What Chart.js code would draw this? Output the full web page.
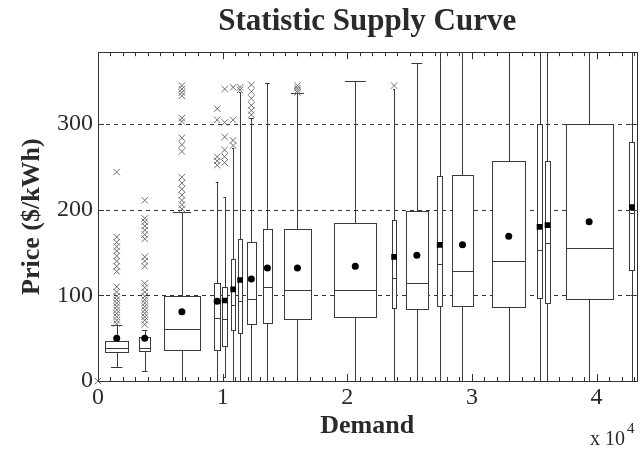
<!DOCTYPE html>
<html>
<head>
<meta charset="utf-8">
<script src="https://cdn.jsdelivr.net/npm/chart.js@4/dist/chart.umd.min.js"></script>
<style>
  html, body { margin: 0; padding: 0; background: #fff; }
  #wrap { width: 642px; height: 449px; }
</style>
</head>
<body>
<div id="wrap"><canvas id="chart" width="642" height="449"></canvas></div>
<script>
// box positions on the demand axis, and how wide each box is (demand units)
const demand  = [1500, 3750, 6730, 9560, 10160, 10840, 11400, 12300, 13590, 16000, 20640, 23750, 25580, 27410, 29240, 32950, 35420, 36060, 39400, 42830];
const boxSpan = [1830, 880, 2950, 450, 400, 360, 360, 760, 720, 2150, 3350, 320, 1750, 360, 1750, 2630, 400, 400, 3750, 400];

// price statistics ($/kWh)
const whiskerLow  = [16, 12, 0, 0, 5, 0, 0, 0, 0, 0, 0, 0, 0, 0, 0, 0, 0, 0, 0, 0];
const q1          = [34, 35, 36, 36, 41, 60, 56, 66, 68, 72, 75, 85, 84, 88, 88, 87, 97, 91, 96, 130];
const median      = [38.5, 38, 61, 74, 72, 89, 94, 96, 110, 106, 106, 120, 115, 137, 128, 140, 153, 161, 155, 196];
const q3          = [46.7, 51, 99, 115, 110, 142, 166, 162, 178, 177, 184, 188, 198, 239, 241, 257, 300, 257, 300, 279];
const whiskerHigh = [65, 60, 197, 232, 215, 272, 337, 307, 348, 336, 350, 341, 371, 420, 420, 420, 420, 420, 420, 420];
const meanPrice   = [50, 50, 81, 93, 94, 107, 118, 119, 132, 132, 134, 145, 147, 159, 159, 169, 180, 182, 186, 203];

const outliers = [
  [244, 168, 162, 157, 152, 146, 140, 134, 128, 110, 104, 99, 95, 91, 87, 83, 79, 75, 71, 67],
  [211, 190, 186, 181, 176, 171, 166, 145, 140, 134, 114, 109, 104, 99, 95, 91, 87, 83, 79, 75, 71, 66],
  [345, 341, 337, 333, 307, 303, 284, 276, 268, 238, 231, 224, 217, 211, 206, 201],
  [318, 305, 262, 257, 252],
  [341, 302, 285, 270, 262, 255],
  [343, 305, 281, 275],
  [343, 340],
  [346, 338, 330, 322, 316, 311],
  [],
  [345, 342, 339, 337],
  [], [345], [], [], [], [], [], [], [], []
];
// one stray point sitting at the origin
const strayDemand = [0];
const strayPrice  = [0];

const xTickValues = [0, 10000, 20000, 30000, 40000];
const yTickValues = [0, 100, 200, 300];

const serif = '"Liberation Serif", "Times New Roman", serif';
const ink = '#2a2a2a';

// build scatter points from the arrays
const outlierPoints = [];
outliers.forEach((list, i) => {
  list.forEach(v => outlierPoints.push({ x: demand[i], y: v }));
});
strayDemand.forEach((d, i) => outlierPoints.push({ x: d, y: strayPrice[i] }));

const meanPoints = demand.map((d, i) => ({ x: d, y: meanPrice[i] }));

// boxes, whiskers and caps go under the scatter marks
const boxPlugin = {
  id: 'boxes',
  beforeDatasetsDraw(chart) {
    const { ctx, chartArea, scales: { x, y } } = chart;
    ctx.save();

    // dashed grid at the labelled prices
    ctx.strokeStyle = '#333';
    ctx.lineWidth = 1;
    ctx.setLineDash([4, 4]);
    yTickValues.slice(1).forEach(v => {
      const py = Math.round(y.getPixelForValue(v)) + 0.5;
      ctx.beginPath();
      ctx.moveTo(chartArea.left, py);
      ctx.lineTo(chartArea.right, py);
      ctx.stroke();
    });
    ctx.setLineDash([]);

    ctx.beginPath();
    ctx.rect(chartArea.left, chartArea.top, chartArea.right - chartArea.left, chartArea.bottom - chartArea.top);
    ctx.clip();

    ctx.strokeStyle = '#3a3a3a';
    ctx.lineWidth = 1;
    demand.forEach((d, i) => {
      const cx = Math.round(x.getPixelForValue(d)) + 0.5;
      const x0 = Math.round(x.getPixelForValue(d - boxSpan[i] / 2)) + 0.5;
      const x1 = Math.round(x.getPixelForValue(d + boxSpan[i] / 2)) + 0.5;
      const c0 = x.getPixelForValue(d - boxSpan[i] / 4);
      const c1 = x.getPixelForValue(d + boxSpan[i] / 4);
      const yq1 = Math.round(y.getPixelForValue(q1[i])) + 0.5;
      const yq3 = Math.round(y.getPixelForValue(q3[i])) + 0.5;
      const ymed = Math.round(y.getPixelForValue(median[i])) + 0.5;
      const ylo = Math.round(y.getPixelForValue(whiskerLow[i])) + 0.5;
      const yhi = Math.round(y.getPixelForValue(whiskerHigh[i])) + 0.5;

      ctx.beginPath();
      // whiskers
      ctx.moveTo(cx, yq3); ctx.lineTo(cx, yhi);
      ctx.moveTo(cx, yq1); ctx.lineTo(cx, ylo);
      // caps
      ctx.moveTo(c0, yhi); ctx.lineTo(c1, yhi);
      ctx.moveTo(c0, ylo); ctx.lineTo(c1, ylo);
      ctx.stroke();

      ctx.fillStyle = '#fff';
      ctx.fillRect(x0, yq3, x1 - x0, yq1 - yq3);
      ctx.strokeRect(x0, yq3, x1 - x0, yq1 - yq3);
      ctx.beginPath();
      ctx.moveTo(x0, ymed); ctx.lineTo(x1, ymed);
      ctx.stroke();
    });
    ctx.restore();
  },
  afterDraw(chart) {
    const { ctx, chartArea, scales: { x, y } } = chart;
    const { left, right, top, bottom } = chartArea;
    ctx.save();
    ctx.strokeStyle = '#333';
    ctx.lineWidth = 1;
    ctx.strokeRect(Math.round(left) + 0.5, Math.round(top) + 0.5, Math.round(right - left), Math.round(bottom - top));

    // inward ticks, every 1000 on demand
    ctx.beginPath();
    for (let v = 0; v <= x.max; v += 1000) {
      const px = Math.round(x.getPixelForValue(v)) + 0.5;
      const len = v % 10000 === 0 ? 7 : 4;
      ctx.moveTo(px, bottom); ctx.lineTo(px, bottom - len);
      ctx.moveTo(px, top); ctx.lineTo(px, top + len);
    }
    yTickValues.forEach(v => {
      const py = Math.round(y.getPixelForValue(v)) + 0.5;
      ctx.moveTo(left, py); ctx.lineTo(left + 6, py);
      ctx.moveTo(right, py); ctx.lineTo(right - 6, py);
    });
    ctx.stroke();

    // exponent note under the axis
    ctx.fillStyle = ink;
    ctx.textBaseline = 'alphabetic';
    ctx.font = '20px ' + serif;
    ctx.fillText('x 10', 590, 445);
    ctx.font = '15px ' + serif;
    ctx.fillText('4', 627, 433);
    ctx.restore();
  }
};

new Chart(document.getElementById('chart'), {
  type: 'scatter',
  data: {
    datasets: [
      {
        label: 'Outliers',
        data: outlierPoints,
        pointStyle: 'crossRot',
        pointRadius: 4.5,
        pointBorderColor: '#6e6e6e',
        pointBorderWidth: 1,
        clip: false
      },
      {
        label: 'Mean',
        data: meanPoints,
        pointStyle: meanPoints.map((p, i) => boxSpan[i] <= 400 ? 'rect' : 'circle'),
        pointRadius: meanPoints.map((p, i) => boxSpan[i] <= 400 ? 4 : 3.5),
        pointBackgroundColor: '#000',
        pointBorderColor: '#000',
        pointBorderWidth: 0
      }
    ]
  },
  options: {
    responsive: false,
    animation: false,
    layout: { padding: { left: 0, right: 2, top: 0, bottom: 0 } },
    plugins: {
      legend: { display: false },
      tooltip: { enabled: false },
      title: {
        display: true,
        fullSize: false,
        text: 'Statistic Supply Curve',
        color: ink,
        font: { family: serif, size: 31, weight: 'bold' },
        padding: { top: 3, bottom: 12 }
      }
    },
    scales: {
      x: {
        type: 'linear',
        min: 0,
        max: 43200,
        grid: { display: false, drawTicks: false },
        border: { display: false },
        afterBuildTicks: (scale) => { scale.ticks = xTickValues.map(v => ({ value: v })); },
        afterFit: (scale) => { scale.height = 68; },
        ticks: {
          color: ink,
          padding: 2,
          maxRotation: 0,
          font: { family: serif, size: 24 },
          callback: (v) => v / 10000
        },
        title: {
          display: true,
          text: 'Demand',
          color: ink,
          font: { family: serif, size: 26, weight: 'bold' },
          padding: { top: 0, bottom: 7 }
        }
      },
      y: {
        min: 0,
        max: 384,
        grid: { display: false, drawTicks: false },
        border: { display: false },
        afterBuildTicks: (scale) => { scale.ticks = yTickValues.map(v => ({ value: v })); },
        afterFit: (scale) => { scale.width = 98; },
        ticks: {
          color: ink,
          padding: 5,
          font: { family: serif, size: 24 }
        },
        title: {
          display: true,
          text: 'Price ($/kWh)',
          color: ink,
          font: { family: serif, size: 26, weight: 'bold' },
          padding: { top: 17, bottom: 0 }
        }
      }
    }
  },
  plugins: [boxPlugin]
});
</script>
</body>
</html>
